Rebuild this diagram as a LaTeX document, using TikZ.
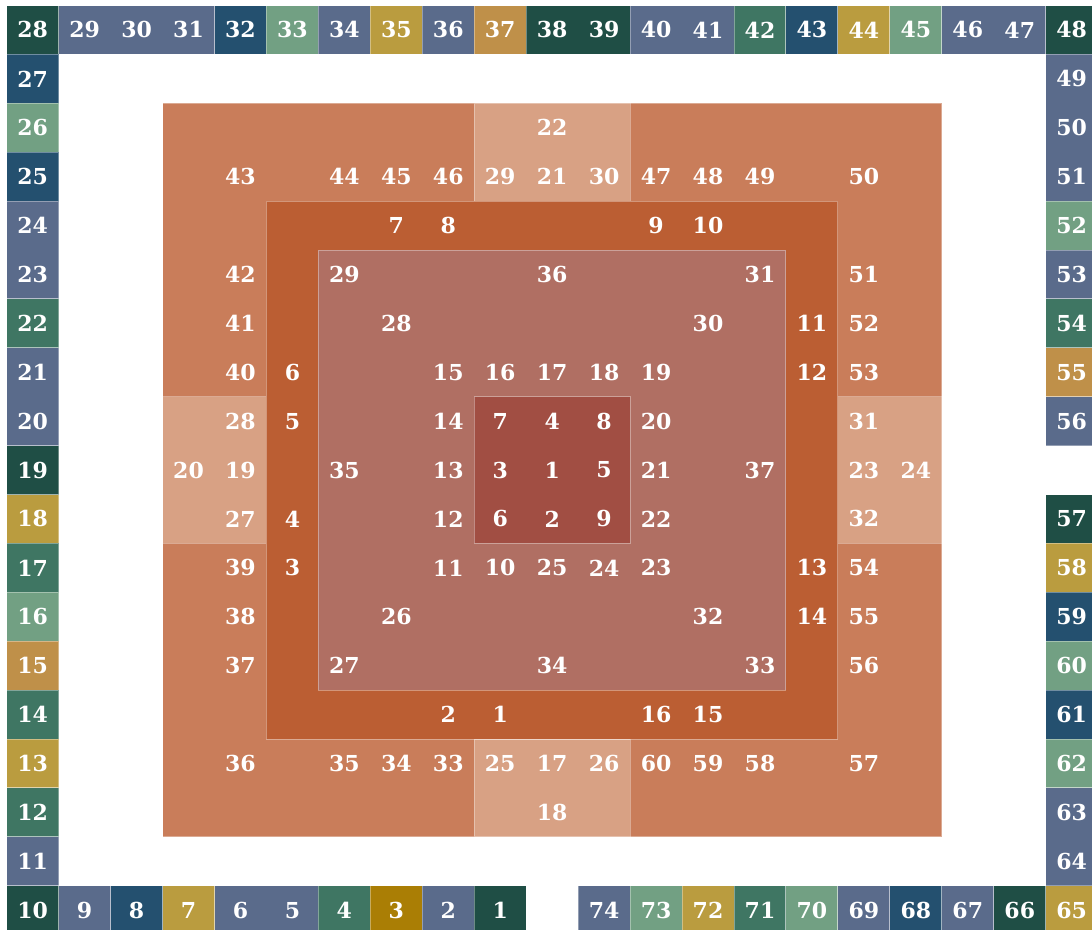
\documentclass[tikz,border=0pt]{standalone}
\usepackage{fontspec}
\setmainfont{DejaVu Serif}
\definecolor{DG}{HTML}{1F4E45}
\definecolor{SL}{HTML}{5A6B8B}
\definecolor{DB}{HTML}{24506F}
\definecolor{SG}{HTML}{72A083}
\definecolor{GD}{HTML}{BA9C3F}
\definecolor{BR}{HTML}{BF9049}
\definecolor{TL}{HTML}{3F7663}
\definecolor{DK}{HTML}{AA7E05}
\definecolor{OR}{HTML}{C97D5A}
\definecolor{LT}{HTML}{D8A184}
\definecolor{DO}{HTML}{BB5E33}
\definecolor{MV}{HTML}{B06F63}
\definecolor{CR}{HTML}{A14E43}
\tikzset{
  block/.style={draw=white, draw opacity=0.35, line width=0.5pt},
  num/.style={text=white, font=\fontsize{11}{13}\selectfont\bfseries, inner sep=0pt}
}
\begin{document}
\begin{tikzpicture}[x={(25.975pt,0)}, y={(0,-24.45pt)}]
\useasboundingbox (-0.129,-0.1125) rectangle (20.891,18.886);
% border runs
\foreach \a/\b/\c/\d/\col in {
 0/0/1/1/DG, 1/0/4/1/SL, 4/0/5/1/DB, 5/0/6/1/SG, 6/0/7/1/SL, 7/0/8/1/GD, 8/0/9/1/SL, 9/0/10/1/BR,
 10/0/12/1/DG, 12/0/14/1/SL, 14/0/15/1/TL, 15/0/16/1/DB, 16/0/17/1/GD, 17/0/18/1/SG, 18/0/20/1/SL, 20/0/21/1/DG,
 0/1/1/2/DB, 0/2/1/3/SG, 0/3/1/4/DB, 0/4/1/6/SL, 0/6/1/7/TL, 0/7/1/9/SL, 0/9/1/10/DG, 0/10/1/11/GD,
 0/11/1/12/TL, 0/12/1/13/SG, 0/13/1/14/BR, 0/14/1/15/TL, 0/15/1/16/GD, 0/16/1/17/TL, 0/17/1/18/SL, 0/18/1/19/DG,
 1/18/2/19/SL, 2/18/3/19/DB, 3/18/4/19/GD, 4/18/6/19/SL, 6/18/7/19/TL, 7/18/8/19/DK, 8/18/9/19/SL, 9/18/10/19/DG,
 11/18/12/19/SL, 12/18/13/19/SG, 13/18/14/19/GD, 14/18/15/19/TL, 15/18/16/19/SG, 16/18/17/19/SL, 17/18/18/19/DB,
 18/18/19/19/SL, 19/18/20/19/DG, 20/18/21/19/GD,
 20/1/21/4/SL, 20/4/21/5/SG, 20/5/21/6/SL, 20/6/21/7/TL, 20/7/21/8/BR, 20/8/21/9/SL,
 20/10/21/11/DG, 20/11/21/12/GD, 20/12/21/13/DB, 20/13/21/14/SG, 20/14/21/15/DB, 20/15/21/16/SG, 20/16/21/18/SL}
 { \draw[block, fill=\col] (\a,\b) rectangle (\c,\d); }
% inner squares
\draw[block, fill=OR] (3,2) rectangle (18,17);
\draw[block, fill=LT] (9,2) rectangle (12,4);
\draw[block, fill=LT] (9,15) rectangle (12,17);
\draw[block, fill=LT] (3,8) rectangle (5,11);
\draw[block, fill=LT] (16,8) rectangle (18,11);
\draw[block, fill=DO] (5,4) rectangle (16,15);
\draw[block, fill=MV] (6,5) rectangle (15,14);
\draw[block, fill=CR] (9,8) rectangle (12,11);
% border numbers
\foreach \c/\r/\t in {
 0/0/28, 1/0/29, 2/0/30, 3/0/31, 4/0/32, 5/0/33, 6/0/34, 7/0/35, 8/0/36, 9/0/37, 10/0/38, 11/0/39, 12/0/40,
 13/0/41, 14/0/42, 15/0/43, 16/0/44, 17/0/45, 18/0/46, 19/0/47, 20/0/48,
 0/1/27, 0/2/26, 0/3/25, 0/4/24, 0/5/23, 0/6/22, 0/7/21, 0/8/20, 0/9/19, 0/10/18, 0/11/17, 0/12/16, 0/13/15,
 0/14/14, 0/15/13, 0/16/12, 0/17/11, 0/18/10,
 1/18/9, 2/18/8, 3/18/7, 4/18/6, 5/18/5, 6/18/4, 7/18/3, 8/18/2, 9/18/1,
 11/18/74, 12/18/73, 13/18/72, 14/18/71, 15/18/70, 16/18/69, 17/18/68, 18/18/67, 19/18/66, 20/18/65,
 20/1/49, 20/2/50, 20/3/51, 20/4/52, 20/5/53, 20/6/54, 20/7/55, 20/8/56,
 20/10/57, 20/11/58, 20/12/59, 20/13/60, 20/14/61, 20/15/62, 20/16/63, 20/17/64}
 { \node[num] (b\t) at (\c+0.5,\r+0.5) {\t}; }
% inner numbers
\foreach \c/\r/\t in {
 10/2/22,
 4/3/43, 6/3/44, 7/3/45, 8/3/46, 9/3/29, 10/3/21, 11/3/30, 12/3/47, 13/3/48, 14/3/49, 16/3/50,
 7/4/7, 8/4/8, 12/4/9, 13/4/10,
 4/5/42, 6/5/29, 10/5/36, 14/5/31, 16/5/51,
 4/6/41, 7/6/28, 13/6/30, 15/6/11, 16/6/52,
 4/7/40, 5/7/6, 8/7/15, 9/7/16, 10/7/17, 11/7/18, 12/7/19, 15/7/12, 16/7/53,
 4/8/28, 5/8/5, 8/8/14, 9/8/7, 10/8/4, 11/8/8, 12/8/20, 16/8/31,
 3/9/20, 4/9/19, 6/9/35, 8/9/13, 9/9/3, 10/9/1, 11/9/5, 12/9/21, 14/9/37, 16/9/23, 17/9/24,
 4/10/27, 5/10/4, 8/10/12, 9/10/6, 10/10/2, 11/10/9, 12/10/22, 16/10/32,
 4/11/39, 5/11/3, 8/11/11, 9/11/10, 10/11/25, 11/11/24, 12/11/23, 15/11/13, 16/11/54,
 4/12/38, 7/12/26, 13/12/32, 15/12/14, 16/12/55,
 4/13/37, 6/13/27, 10/13/34, 14/13/33, 16/13/56,
 8/14/2, 9/14/1, 12/14/16, 13/14/15,
 4/15/36, 6/15/35, 7/15/34, 8/15/33, 9/15/25, 10/15/17, 11/15/26, 12/15/60, 13/15/59, 14/15/58, 16/15/57,
 10/16/18}
 { \node[num] (n\c-\r) at (\c+0.5,\r+0.5) {\t}; }
\end{tikzpicture}
\end{document}
